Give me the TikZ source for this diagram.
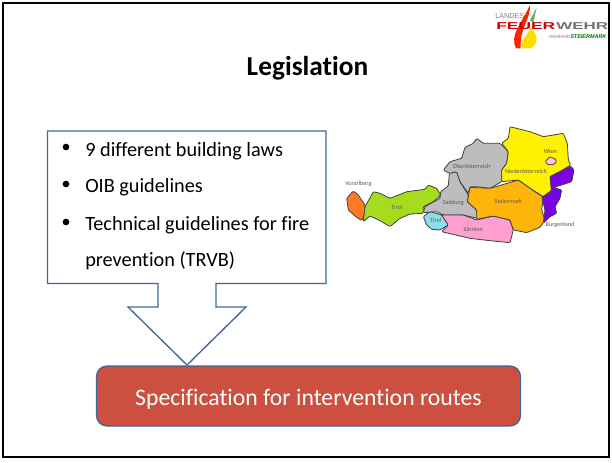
\documentclass[tikz,border=0pt]{standalone}
\usepackage{fontspec}
\setmainfont[Ligatures=NoCommon]{Carlito}
\newfontfamily\logofont{Liberation Sans}
\definecolor{outl}{HTML}{3F6797}
\definecolor{redbox}{HTML}{CD4F3F}
\definecolor{mOrange}{HTML}{FF7A22}
\definecolor{mGreen}{HTML}{A6DC1E}
\definecolor{mGrey}{HTML}{BDBDBD}
\definecolor{mBlue}{HTML}{8FDCEB}
\definecolor{mPink}{HTML}{FF9FCF}
\definecolor{mYellow}{HTML}{FFF200}
\definecolor{mStyria}{HTML}{FFB40A}
\definecolor{mPurple}{HTML}{7A00E6}
\tikzset{
 region/.style={draw=black!75,line width=0.6pt,line join=round,rounded corners=0.8pt},
 maplabel/.style={font=\fontsize{4.6}{5}\selectfont,text=black!65,inner sep=0},
 bulletitem/.style={anchor=west,font=\fontsize{15.2}{18}\selectfont,inner sep=0,text=black},
 dotmark/.style={circle,fill=black,inner sep=0,minimum size=5pt}
}
\begin{document}
\begin{tikzpicture}[x=0.75pt,y=-0.75pt]
\useasboundingbox (0,0) rectangle (612,462);
\fill[white] (0,0) rectangle (612,462);
\draw[black,line width=1.2pt] (3,3) rectangle (609,457);
% logo
\begin{scope}[shift={(480,0)},x=0.25pt,y=-0.25pt]
\fill[red!75!orange] (108,145) .. controls (88,105) and (125,70) .. (150,15) .. controls (152,60) and (118,85) .. (122,145) -- cycle;
\fill[yellow!80!orange] (128,145) .. controls (112,120) and (150,105) .. (150,80) .. controls (178,110) and (175,130) .. (152,145) -- cycle;
\fill[green!50!black,opacity=.6] (150,60) -- (170,22) -- (160,70) -- cycle;
\end{scope}
\node[inner sep=0,anchor=west,font=\logofont\fontsize{5.4}{6}\selectfont,text=black!50] (landes) at (495,16) {LANDES};
\node[inner sep=0,anchor=west,font=\logofont\bfseries\fontsize{7.5}{8}\selectfont,text=red!80!black] (feuer) at (496,26) {\scalebox{1.74}[1]{FEUER}};
\node[inner sep=0,anchor=west,font=\logofont\bfseries\fontsize{7.5}{8}\selectfont,text=black!55] (wehr) at (556,26) {\scalebox{1.7}[1]{WEHR}};
\node[inner sep=0,anchor=west,font=\logofont\fontsize{3.4}{4}\selectfont,text=black!50] (verband) at (548,37) {VERBAND};
\node[inner sep=0,anchor=west,font=\logofont\bfseries\itshape\fontsize{4.1}{5}\selectfont,text=green!45!black] (stmk) at (570,37) {STEIERMARK};
% title
\node[inner sep=0,font=\bfseries\fontsize{18}{22}\selectfont] (title) at (307.5,68) {\scalebox{1.14}{Legislation}};
% callout
\draw[outl,line width=1pt,fill=white,line join=miter] (47.5,131) -- (326,131) -- (326,283.5) -- (216,283.5) -- (216,307) -- (246,307) -- (187,365) -- (128,307) -- (158,307) -- (158,283.5) -- (47.5,283.5) -- cycle;
\node[dotmark] (b1) at (66,147) {};
\node[bulletitem] (t1) at (85,151) {9 different building laws};
\node[dotmark] (b2) at (66,184) {};
\node[bulletitem] (t2) at (85,187.5) {OIB guidelines};
\node[dotmark] (b3) at (66,222) {};
\node[bulletitem] (t3) at (85,225) {Technical guidelines for fire};
\node[bulletitem] (t4) at (85,261) {prevention (TRVB)};
% red box
\node[draw=outl,line width=1pt,fill=redbox,rounded corners=8pt,minimum width=318pt,minimum height=45pt,inner sep=0,text=white,font=\fontsize{17.8}{22}\selectfont] (spec) at (308.5,396) {\rule{0pt}{17pt}Specification for intervention routes};
% map
\begin{scope}[shift={(330,110)},x=0.25pt,y=-0.25pt]
\filldraw[region,fill=mOrange] (50,265)--(70,243)--(85,255)--(105,285)--(105,310)--(95,332)--(75,318)--(55,300)--cycle;
\filldraw[region,fill=mGreen] (105,290)--(130,245)--(150,250)--(180,265)--(230,245)--(285,238)--(295,225)--(320,235)--(332,255)--(310,275)--(280,290)--(280,310)--(240,312)--(210,325)--(180,350)--(150,332)--(120,318)--(100,335)--cycle;
\filldraw[region,fill=mGrey] (280,308)--(285,290)--(330,265)--(332,245)--(355,228)--(358,190)--(380,185)--(390,215)--(415,255)--(412,275)--(440,300)--(442,325)--(400,315)--(340,315)--(320,305)--cycle;
\filldraw[region,fill=mGrey] (340,180)--(360,155)--(395,145)--(405,112)--(430,100)--(440,85)--(460,100)--(510,100)--(535,125)--(530,160)--(515,180)--(515,215)--(480,235)--(440,230)--(420,230)--(415,250)--(390,215)--(380,185)--(358,190)--cycle;
\filldraw[region,fill=mBlue] (280,320)--(300,305)--(335,315)--(355,345)--(330,360)--(305,358)--(290,345)--cycle;
\filldraw[region,fill=mPink] (335,315)--(400,315)--(440,330)--(490,318)--(540,330)--(550,360)--(540,398)--(480,392)--(420,385)--(335,365)--(355,345)--cycle;
\filldraw[region,fill=mYellow] (515,100)--(535,85)--(540,50)--(600,65)--(640,80)--(700,70)--(712,100)--(715,150)--(722,165)--(690,185)--(660,200)--(665,240)--(640,260)--(600,235)--(565,210)--(515,215)--(515,180)--(530,160)--(535,125)--cycle;
\filldraw[region,fill=mPink!60!white] (645,155)--(660,140)--(680,150)--(675,162)--(655,165)--cycle;
\filldraw[region,fill=mStyria] (420,232)--(480,235)--(565,210)--(600,235)--(640,262)--(635,300)--(645,330)--(630,352)--(590,368)--(550,360)--(540,330)--(490,318)--(440,328)--(440,300)--(412,275)--cycle;
\filldraw[region,fill=mPurple] (660,200)--(690,185)--(722,168)--(732,180)--(725,215)--(695,225)--(670,232)--(695,240)--(690,265)--(675,290)--(680,310)--(660,320)--(640,340)--(645,300)--(636,262)--(665,245)--cycle;
\node[maplabel] (m1) at (85,222) {Vorarlberg};
\node[maplabel] (m2) at (200,292) {Tirol};
\node[maplabel] (m3) at (370,280) {Salzburg};
\node[maplabel] (m4) at (317,332) {Tirol};
\node[maplabel] (m5) at (430,357) {Kärnten};
\node[maplabel] (m6) at (425,170) {Oberösterreich};
\node[maplabel] (m7) at (588,184) {Niederösterreich};
\node[maplabel] (m8) at (661,125) {Wien};
\node[maplabel] (m9) at (535,275) {Steiermark};
\node[maplabel] (m10) at (690,346) {Burgenland};
\end{scope}
\end{tikzpicture}
\end{document}
